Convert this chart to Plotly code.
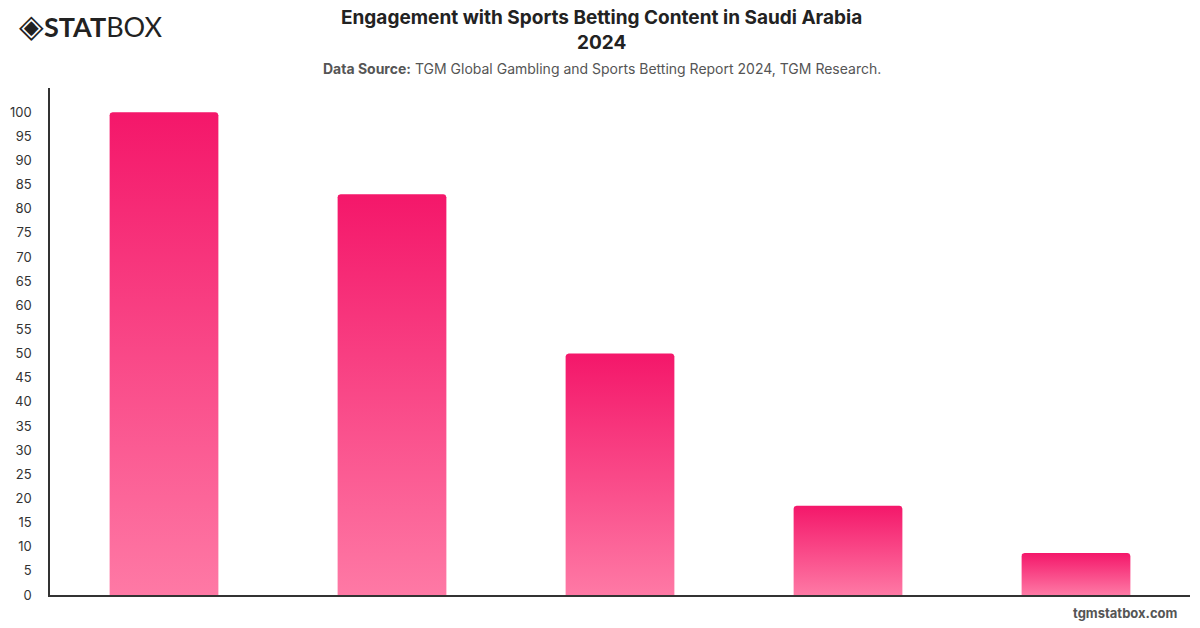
import math
import plotly.graph_objects as go

# ---- data ----
categories = ["Category 1", "Category 2", "Category 3", "Category 4", "Category 5"]
values = [100, 83, 50, 18.5, 8.7]
y_ticks = list(range(0, 101, 5))

title_line1 = "Engagement with Sports Betting Content in Saudi Arabia"
title_line2 = "2024"
source_text = "<b>Data Source:</b> TGM Global Gambling and Sports Betting Report 2024, TGM Research."

TOP_COLOR = "#F4176A"
BOTTOM_COLOR = "#FE79A5"
BAR_WIDTH = 0.477
CORNER_PX = 3
Y_MAX = 105

W, H = 1200, 628
ML, MR, MT, MB = 47, 10, 88, 33
PW = W - ML - MR
PH = H - MT - MB

# conversion of corner radius (pixels) into axis units
rx = CORNER_PX / (PW / len(categories))
ry = CORNER_PX / (PH / Y_MAX)


def bar_outline(i, v):
    x0, x1 = i - BAR_WIDTH / 2, i + BAR_WIDTH / 2
    xs, ys = [x0, x1], [0, 0]
    # top-right corner arc
    for k in range(0, 9):
        a = math.pi / 2 * k / 8
        xs.append(x1 - rx + rx * math.cos(a))
        ys.append(v - ry + ry * math.sin(a))
    # top-left corner arc
    for k in range(0, 9):
        a = math.pi / 2 + math.pi / 2 * k / 8
        xs.append(x0 + rx + rx * math.cos(a))
        ys.append(v - ry + ry * math.sin(a))
    xs.append(x0)
    ys.append(0)
    return xs, ys


fig = go.Figure()

for i, (cat, v) in enumerate(zip(categories, values)):
    xs, ys = bar_outline(i, v)
    fig.add_trace(go.Scatter(
        x=xs,
        y=ys,
        mode="lines",
        fill="toself",
        line=dict(width=0),
        fillgradient=dict(
            type="vertical",
            colorscale=[[0, BOTTOM_COLOR], [1, TOP_COLOR]],
        ),
        name=cat,
        hoverinfo="text",
        text=f"{cat}: {v}",
        showlegend=False,
    ))

fig.update_layout(
    width=W,
    height=H,
    margin=dict(l=ML, r=MR, t=MT, b=MB),
    paper_bgcolor="white",
    plot_bgcolor="white",
    font=dict(family="Inter, Roboto, sans-serif", color="#333333"),
    showlegend=False,
    xaxis=dict(
        range=[-0.5, len(categories) - 0.5],
        showgrid=False,
        zeroline=False,
        showticklabels=False,
        ticks="",
        showline=True,
        linecolor="#333333",
        linewidth=1.5,
        fixedrange=True,
    ),
    yaxis=dict(
        range=[0, Y_MAX],
        tickvals=y_ticks,
        ticktext=[str(t) for t in y_ticks],
        showgrid=False,
        zeroline=False,
        showline=True,
        linecolor="#333333",
        linewidth=1.5,
        ticks="",
        ticklabelstandoff=14,
        tickfont=dict(size=13, color="#333333"),
        fixedrange=True,
    ),
)

cx = (600 - ML) / PW

# Title
fig.add_annotation(
    xref="paper", yref="paper", x=cx, y=1,
    yanchor="top", xanchor="center",
    yshift=MT - 4,
    text=f"<b>{title_line1}<br>{title_line2}</b>",
    showarrow=False, align="center",
    font=dict(size=19, color="#222222", family="Inter, Roboto, sans-serif"),
)

# Subtitle / source
fig.add_annotation(
    xref="paper", yref="paper", x=cx, y=1,
    yanchor="top", xanchor="center",
    yshift=MT - 58,
    text=source_text,
    showarrow=False, align="center",
    font=dict(size=14, color="#555555", family="Inter, Roboto, sans-serif"),
)

# Logo
fig.add_annotation(
    xref="paper", yref="paper", x=-ML / PW, y=1,
    xanchor="left", yanchor="top", xshift=14, yshift=MT - 3,
    text="<span style='font-size:32px'>◈</span><b>STAT</b>BOX",
    showarrow=False,
    font=dict(size=27, color="#222222", family="Lato, Inter, sans-serif"),
)

# Footer
fig.add_annotation(
    xref="paper", yref="paper", x=(1180 - ML) / PW, y=0,
    xanchor="right", yanchor="top", yshift=-8,
    text="<b>tgmstatbox.com</b>",
    showarrow=False,
    font=dict(size=13, color="#555555", family="Inter, Roboto, sans-serif"),
)

fig.write_html("out.html")
